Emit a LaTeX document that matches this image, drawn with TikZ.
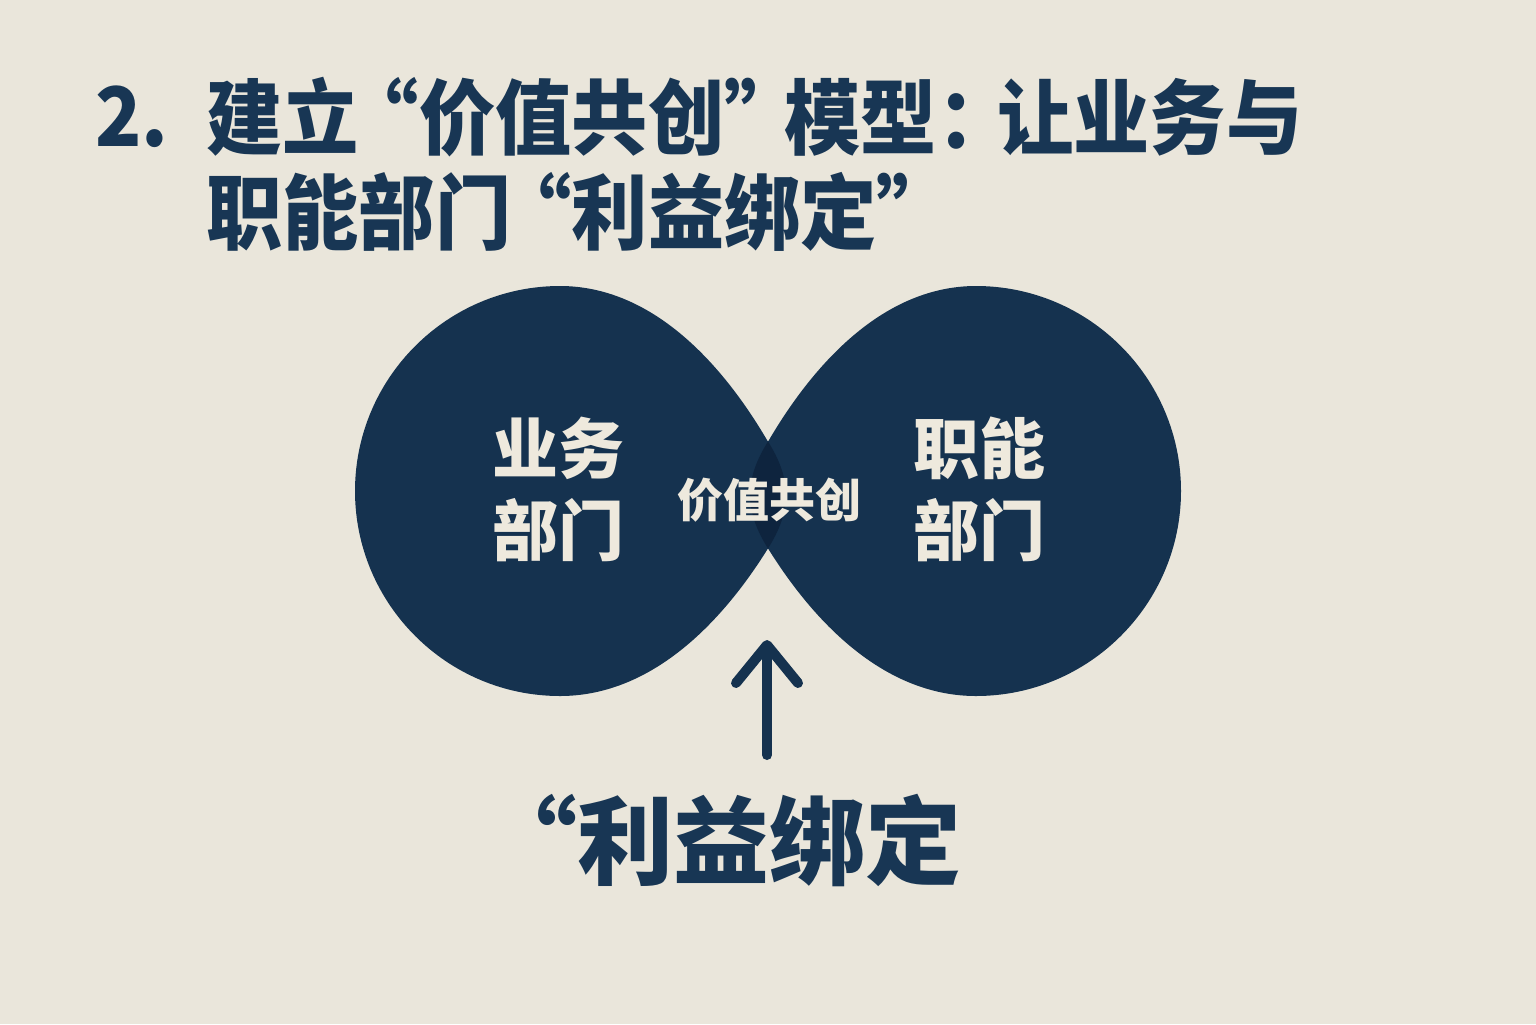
\documentclass[tikz,border=0pt]{standalone}
\usepackage{fontspec}
\usetikzlibrary{arrows.meta}
\newfontfamily\cjk{Noto Sans CJK SC}
\newfontfamily\cjkt{Noto Sans CJK SC}[FakeStretch=0.93]
\definecolor{bgc}{HTML}{EAE6DB}
\definecolor{navy}{HTML}{15324F}
\definecolor{navyd}{HTML}{0E243E}
\definecolor{titlec}{HTML}{183654}
\definecolor{lightt}{HTML}{EEE9DD}
\tikzset{
  titletext/.style={text=titlec, inner sep=0pt, font=\cjkt\bfseries\fontsize{41}{45}\selectfont},
  blobtext/.style={text=lightt, inner sep=0pt, align=center, font=\cjk\bfseries\fontsize{33}{41}\selectfont},
  midtext/.style={text=lightt, inner sep=0pt, font=\cjk\bfseries\fontsize{23}{26}\selectfont},
  bottomtext/.style={text=titlec, inner sep=0pt, font=\cjk\bfseries\fontsize{48}{52}\selectfont},
  arrowline/.style={draw=navy, line width=5pt, line cap=round,
    -{Straight Barb[length=19pt, width=31pt, line cap=round, line join=round]}},
}
\def\leftblob{(767,440) .. controls (720,360) and (650,286) .. (560,286)
  .. controls (447,286) and (355,378) .. (355,491)
  .. controls (355,604) and (447,696) .. (560,696)
  .. controls (650,696) and (720,625) .. (767,550)
  .. controls (780,530) and (786,512) .. (786,495)
  .. controls (786,478) and (780,460) .. (767,440) -- cycle}
\begin{document}
\begin{tikzpicture}[x=0.5pt, y=-0.5pt]
\fill[bgc] (0,0) rectangle (1536,1024);
\useasboundingbox (0,0) rectangle (1536,1024);
% blobs
\fill[navy] \leftblob;
\begin{scope}[shift={(1536,0)}, xscale=-1]
  \fill[navy] \leftblob;
\end{scope}
\begin{scope}
  \clip \leftblob;
  \begin{scope}[shift={(1536,0)}, xscale=-1]
    \fill[navyd] \leftblob;
  \end{scope}
\end{scope}
% title
\node[titletext, anchor=west] (num) at (95,117) {2.};
\node[titletext, anchor=west] (t1) at (206,117) {建立\kern-8pt“价值共创”\kern-8pt模型：\kern-8pt让业务与};
\node[titletext, anchor=west] (t2) at (206,212) {职能部门\kern-8pt“利益绑定”};
% blob labels
\node[blobtext] (lab1) at (558,489) {业务\\部门};
\node[blobtext] (lab2) at (979,489) {职能\\部门};
\node[midtext] (mid) at (769,500) {价值共创};
% arrow and bottom label
\node[bottomtext, anchor=east] (bind) at (962,840) {“利益绑定};
\coordinate (abot) at (767,755);
\coordinate (atip) at (767,640);
\draw[arrowline] (abot) -- (atip);
\end{tikzpicture}
\end{document}
